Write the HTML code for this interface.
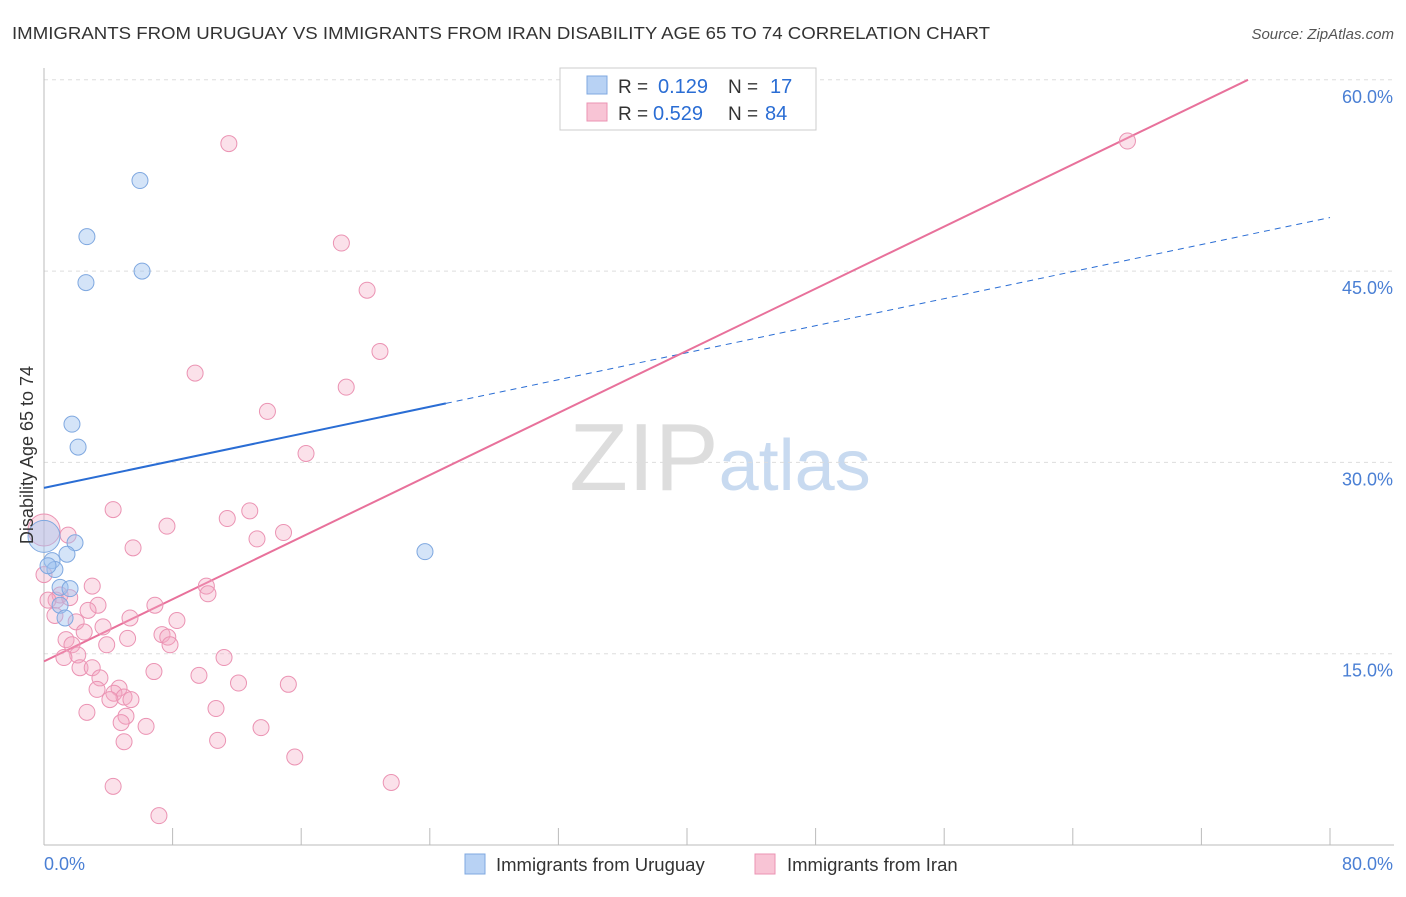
<!DOCTYPE html>
<html><head><meta charset="utf-8"><style>
body{margin:0;background:#fff;font-family:"Liberation Sans",sans-serif;}
svg text{font-family:"Liberation Sans",sans-serif;}
</style></head><body>
<svg id="chart" width="1406" height="892" xmlns="http://www.w3.org/2000/svg">
<text x="12" y="39" font-size="17.5" fill="#333" textLength="978" lengthAdjust="spacingAndGlyphs">IMMIGRANTS FROM URUGUAY VS IMMIGRANTS FROM IRAN DISABILITY AGE 65 TO 74 CORRELATION CHART</text>
<text x="1394" y="39" font-size="15" fill="#555" text-anchor="end" font-style="italic">Source: ZipAtlas.com</text>
<text x="720" y="490" font-size="96" text-anchor="middle" fill="#ddd" font-family="Liberation Serif">ZIP<tspan fill="#c8daf0" font-family="Liberation Sans" font-size="72">atlas</tspan></text>
<g id="grid"></g>
<g id="axes"></g>
<g id="lines"></g>
<g id="points"></g>
<text transform="translate(33,455) rotate(-90)" font-size="18" fill="#333" text-anchor="middle">Disability Age 65 to 74</text>
<g>
<rect x="560" y="68" width="256" height="62" fill="#fff" stroke="#ccc"/>
<rect x="587" y="76" width="20" height="18" fill="#b8d2f4" stroke="#7fa8e0"/>
<rect x="587" y="103" width="20" height="18" fill="#f8c4d5" stroke="#eb93b3"/>
<text x="618" y="93" font-size="19" fill="#333">R =</text>
<text x="658" y="93" font-size="20" fill="#2a6dd4">0.129</text>
<text x="728" y="93" font-size="19" fill="#333">N =</text>
<text x="770" y="93" font-size="20" fill="#2a6dd4">17</text>
<text x="618" y="120" font-size="19" fill="#333">R =</text>
<text x="653" y="120" font-size="20" fill="#2a6dd4">0.529</text>
<text x="728" y="120" font-size="19" fill="#333">N =</text>
<text x="765" y="120" font-size="20" fill="#2a6dd4">84</text>
</g>
<g>
<rect x="465" y="854" width="20" height="20" fill="#b8d2f4" stroke="#7fa8e0"/>
<text x="496" y="871" font-size="18.5" fill="#333">Immigrants from Uruguay</text>
<rect x="755" y="854" width="20" height="20" fill="#f8c4d5" stroke="#eb93b3"/>
<text x="787" y="871" font-size="18.5" fill="#333">Immigrants from Iran</text>
</g>
</svg>
<script>
const yTicks=[15,30,45,60];
const yTickLabels=["15.0%","30.0%","45.0%","60.0%"];
const xTickLabels=["0.0%","80.0%"];
const uruguayX=[5.97,2.67,6.10,2.61,1.74,2.12,0,1.93,1.43,0.5,0.68,1.0,1.62,1.0,1.31,23.7,0.25];
const uruguayY=[52.1,47.7,45.0,44.1,33.0,31.2,24.2,23.7,22.8,22.3,21.6,20.2,20.1,18.8,17.8,23.0,21.9];
const iranX=[11.5,18.5,20.1,20.9,9.4,18.8,13.9,16.3,67.4,4.3,12.8,7.65,11.4,14.9,13.25,5.54,0,1.5,3.0,10.1,10.2,6.9,3.36,8.27,5.35,0.75,1.0,1.6,2.74,3.67,2.0,2.5,7.34,7.7,5.2,7.84,3.9,1.37,1.74,2.1,1.24,2.24,3.0,11.2,6.84,9.64,3.48,12.1,15.2,4.67,3.3,4.35,4.98,5.41,4.1,10.7,2.67,5.1,4.8,6.35,13.5,10.8,4.98,15.6,21.6,4.3,7.15,0.68,0,0.25];
const iranY=[55.0,47.2,43.5,38.7,37.0,35.9,34.0,30.7,55.2,26.3,26.2,25.0,25.6,24.5,24.0,23.3,24.7,24.3,20.3,20.3,19.7,18.8,18.8,17.6,17.8,19.2,19.6,19.4,18.4,17.1,17.5,16.7,16.5,16.3,16.2,15.7,15.7,16.1,15.7,14.9,14.7,13.9,13.9,14.7,13.6,13.3,13.1,12.7,12.6,12.3,12.2,11.9,11.6,11.4,11.4,10.7,10.4,10.1,9.6,9.3,9.2,8.2,8.1,6.9,4.9,4.6,2.3,18.0,21.2,19.2];
const uruguayTrend=[28.0,49.2];
const iranTrend=[14.4,60.0,74.9];
const bigIdxU=6, bigIdxI=16;
const NS="http://www.w3.org/2000/svg";
const X=v=>44+v/80*1286;
const Y=v=>845-v/15*191.3;
function mk(t,a,p){const e=document.createElementNS(NS,t);for(const k in a)e.setAttribute(k,a[k]);p.appendChild(e);return e;}
const grid=document.getElementById('grid'),axes=document.getElementById('axes'),lines=document.getElementById('lines'),pts=document.getElementById('points');
yTicks.forEach((t,i)=>{
 const l=mk('line',{x1:44,x2:1394,y1:Y(t),y2:Y(t),stroke:'#ddd','stroke-dasharray':'4,4'},grid);
 
 
 const tx=mk('text',{x:1393,y:Y(t)+23,'font-size':18,fill:'#4a7fd4','text-anchor':'end'},axes);
 tx.textContent=yTickLabels[i];
 
 
});
const ax=mk('line',{x1:44,x2:1394,y1:845,y2:845,stroke:'#bbb'},axes);


const ay=mk('line',{x1:44,x2:44,y1:68,y2:845,stroke:'#bbb'},axes);


for(let i=0;i<=10;i++){const t=mk('line',{x1:X(i*8),x2:X(i*8),y1:828,y2:845,stroke:'#bbb'},axes);
 
 }
const xl0=mk('text',{x:44,y:870,'font-size':18,fill:'#4a7fd4'},axes);xl0.textContent=xTickLabels[0];


const xl1=mk('text',{x:1393,y:870,'font-size':18,fill:'#4a7fd4','text-anchor':'end'},axes);xl1.textContent=xTickLabels[1];


const uy=x=>uruguayTrend[0]+(uruguayTrend[1]-uruguayTrend[0])*x/80;
const b1=mk('line',{x1:X(0),y1:Y(uy(0)),x2:X(25),y2:Y(uy(25)),stroke:'#2a6dd4','stroke-width':2},lines);


const b2=mk('line',{x1:X(25),y1:Y(uy(25)),x2:X(80),y2:Y(uy(80)),stroke:'#2a6dd4','stroke-width':1,'stroke-dasharray':'6,5'},lines);


const p1=mk('line',{x1:X(0),y1:Y(iranTrend[0]),x2:X(iranTrend[2]),y2:Y(iranTrend[1]),stroke:'#e8719b','stroke-width':2},lines);


iranX.forEach((x,i)=>{const c=mk('circle',{cx:X(x),cy:Y(iranY[i]),r:i===bigIdxI?16:8,fill:'rgba(244,170,195,0.35)',stroke:'#eb93b3','stroke-width':1},pts);
 
 });
uruguayX.forEach((x,i)=>{const c=mk('circle',{cx:X(x),cy:Y(uruguayY[i]),r:i===bigIdxU?16:8,fill:'rgba(160,196,240,0.45)',stroke:'#7fa8e0','stroke-width':1},pts);
 
 });
</script>
</body></html>
